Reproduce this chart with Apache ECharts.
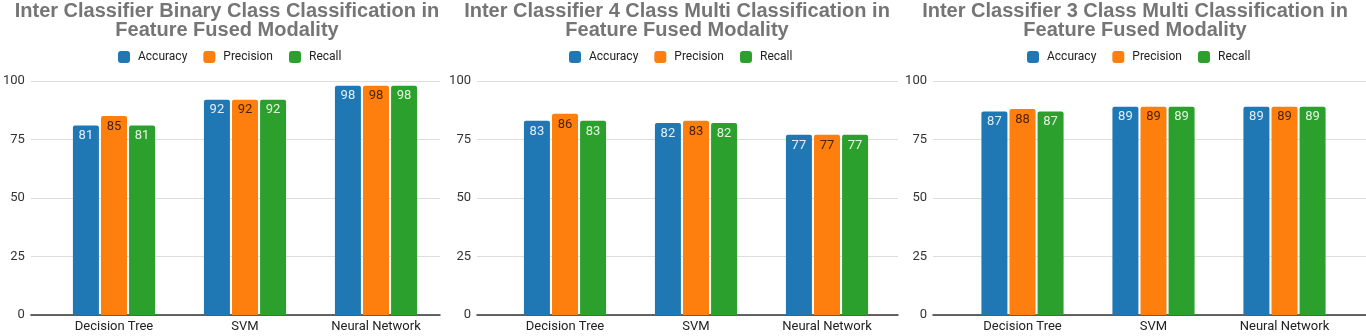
<!DOCTYPE html>
<html>
<head>
<meta charset="utf-8">
<script src="https://cdn.jsdelivr.net/npm/echarts@6/dist/echarts.min.js"></script>
<style>
html,body{margin:0;padding:0;background:#fff;}
#chart{width:1366px;height:336px;}
</style>
</head>
<body>
<div id="chart"></div>
<script>
const categories = ['Decision Tree', 'SVM', 'Neural Network'];
const metrics = ['Accuracy', 'Precision', 'Recall'];
const yTicks = [0, 25, 50, 75, 100];
const panelTitles = [
  'Inter Classifier Binary Class Classification in\nFeature Fused Modality',
  'Inter Classifier 4 Class Multi Classification in\nFeature Fused Modality',
  'Inter Classifier 3 Class Multi Classification in\nFeature Fused Modality'
];
const binaryAccuracy = [81, 92, 98];
const binaryPrecision = [85, 92, 98];
const binaryRecall = [81, 92, 98];
const fourAccuracy = [83, 82, 77];
const fourPrecision = [86, 83, 77];
const fourRecall = [83, 82, 77];
const threeAccuracy = [87, 89, 89];
const threePrecision = [88, 89, 89];
const threeRecall = [87, 89, 89];

const panelData = [
  [binaryAccuracy, binaryPrecision, binaryRecall],
  [fourAccuracy, fourPrecision, fourRecall],
  [threeAccuracy, threePrecision, threeRecall]
];

const colors = ['#1f77b4', '#ff7f0e', '#2ca02c'];
const labelColors = ['rgba(255,255,255,0.88)', 'rgba(40,15,0,0.85)', 'rgba(255,255,255,0.88)'];
const FONT = 'Roboto, Arial, sans-serif';
const TITLE_FONT = '"Liberation Sans", Arial, sans-serif';

// layout per panel
const layout = [
  { titleX: 227, legendX: 118, gridL: 26, gridR: 926, barL: 48.5 },
  { titleX: 677, legendX: 569, gridL: 477, gridR: 468, barL: 499.5 },
  { titleX: 1135, legendX: 1027, gridL: 933, gridR: 0, barL: 957 }
];
const TOP = 81, BOTTOM = 21, CAT_W = 131;

const chart = echarts.init(document.getElementById('chart'));
const option = {
  animation: false,
  backgroundColor: '#fff',
  title: [], legend: [], grid: [], xAxis: [], yAxis: [], series: []
};

layout.forEach((p, i) => {
  option.title.push({
    text: panelTitles[i], left: p.titleX, top: 2, textAlign: 'center', padding: 0,
    textStyle: { fontFamily: TITLE_FONT, fontSize: 20, fontWeight: 'bold', color: '#757575', lineHeight: 19 }
  });
  option.legend.push({
    data: metrics, left: p.legendX, top: 51, padding: 0, itemWidth: 12, itemHeight: 12, itemGap: 16,
    icon: 'roundRect', selectedMode: false,
    textStyle: { fontFamily: FONT, fontSize: 12, color: '#222', padding: [0, 0, 0, 3] }
  });
  // grid for gridlines / y labels
  option.grid.push({ left: p.gridL, right: p.gridR, top: TOP, bottom: BOTTOM, containLabel: false });
  // grid for bars
  option.grid.push({ left: p.barL, width: CAT_W * 3, top: TOP, bottom: BOTTOM, containLabel: false });
  const gA = i * 2, gB = i * 2 + 1;
  option.xAxis.push({
    type: 'category', gridIndex: gA, data: [''],
    axisLine: { show: true, lineStyle: { color: '#333', width: 1.5 } },
    axisTick: { show: false }, axisLabel: { show: false }, splitLine: { show: false }
  });
  option.xAxis.push({
    type: 'category', gridIndex: gB, data: categories,
    axisLine: { show: false }, axisTick: { show: false },
    axisLabel: { fontFamily: FONT, fontSize: 13, color: '#222', margin: 5 }
  });
  option.yAxis.push({
    type: 'value', gridIndex: gA, min: yTicks[0], max: yTicks[yTicks.length - 1], interval: 25,
    axisLine: { show: false }, axisTick: { show: false },
    axisLabel: { fontFamily: FONT, fontSize: 13, color: '#333', margin: 6 },
    splitLine: { lineStyle: { color: '#dddddd', width: 1 } }
  });
  option.yAxis.push({
    type: 'value', gridIndex: gB, min: yTicks[0], max: yTicks[yTicks.length - 1], interval: 25, show: false,
    splitLine: { show: false }
  });
  metrics.forEach((m, k) => {
    option.series.push({
      name: m, type: 'bar', xAxisIndex: gB, yAxisIndex: gB,
      data: panelData[i][k], barWidth: 26, barGap: '8%',
      itemStyle: { color: colors[k], borderRadius: [2, 2, 0, 0] },
      label: {
        show: true, position: 'insideTop', distance: 4,
        fontFamily: FONT, fontSize: 13, color: labelColors[k]
      }
    });
  });
});

chart.setOption(option);
</script>
</body>
</html>
